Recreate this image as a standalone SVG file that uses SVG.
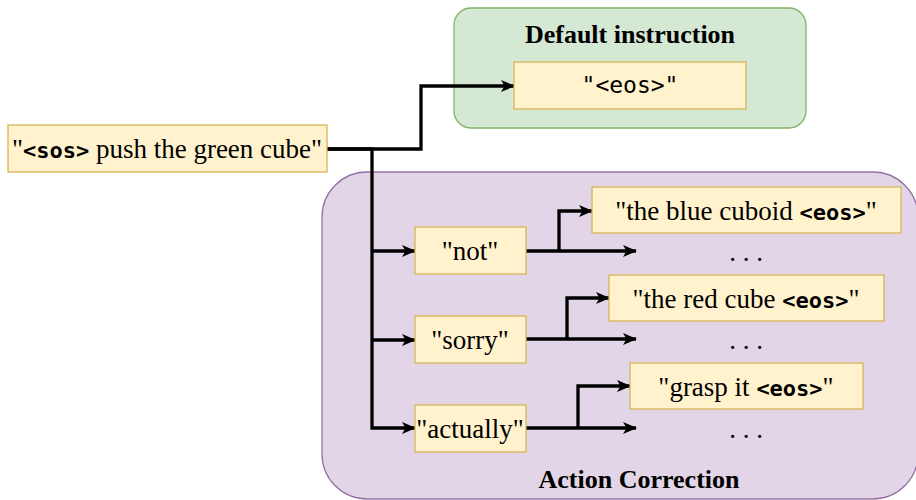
<svg xmlns="http://www.w3.org/2000/svg" width="916" height="500" viewBox="0 0 916 500">
<defs>
<style>
.node rect{fill:#fff2cc;stroke:#d6b656;stroke-width:1.3}
.t{font-family:"Liberation Serif","Times New Roman",serif;font-size:27px;fill:#000}
.m{font-family:"DejaVu Sans Mono","Liberation Mono",monospace;font-weight:bold;font-size:22px}
.mr{font-family:"DejaVu Sans Mono","Liberation Mono",monospace;font-size:23px}
.title{font-family:"Liberation Serif","Times New Roman",serif;font-size:26px;font-weight:bold;fill:#000}
.dots{font-family:"Liberation Serif","Times New Roman",serif;font-size:27px;fill:#000}
.edge{fill:none;stroke:#000;stroke-width:3.3}
</style>
<marker id="arr" viewBox="0 0 14 12" refX="13" refY="6" markerWidth="14" markerHeight="12" markerUnits="userSpaceOnUse" orient="auto">
<path d="M0,0 L14,6 L0,12 L3.5,6 z" fill="#000"/>
</marker>
</defs>
<rect width="916" height="500" fill="#fff"/>
<g id="group-default">
<rect x="454" y="8" width="352" height="120" rx="17" fill="#d5e8d4" stroke="#82b366" stroke-width="1.3"/>
<text class="title" x="630" y="43" text-anchor="middle">Default instruction</text>
</g>
<g id="group-correction">
<rect x="322" y="172" width="596" height="327" rx="45" fill="#e1d5e7" stroke="#9673a6" stroke-width="1.3"/>
<text class="title" x="639" y="488" text-anchor="middle">Action Correction</text>
</g>
<g id="edges">
<polyline class="edge" points="327,149 421,149 421,86 514,86" marker-end="url(#arr)"/>
<polyline class="edge" points="327,149 372,149 372,428 415,428" marker-end="url(#arr)"/>
<line class="edge" x1="372" y1="251" x2="415" y2="251" marker-end="url(#arr)"/>
<line class="edge" x1="372" y1="340" x2="415" y2="340" marker-end="url(#arr)"/>
<line class="edge" x1="526" y1="251" x2="636" y2="251" marker-end="url(#arr)"/>
<polyline class="edge" points="559,251 559,211 592,211" marker-end="url(#arr)"/>
<line class="edge" x1="526" y1="339" x2="636" y2="339" marker-end="url(#arr)"/>
<polyline class="edge" points="567,339 567,298 609,298" marker-end="url(#arr)"/>
<line class="edge" x1="526" y1="428" x2="636" y2="428" marker-end="url(#arr)"/>
<polyline class="edge" points="578,428 578,386 630,386" marker-end="url(#arr)"/>
</g>
<g id="node-source" class="node">
<rect x="8" y="125" width="319" height="47"/>
<text class="t" x="167" y="158" text-anchor="middle">"<tspan class="m">&lt;sos&gt;</tspan> push the green cube"</text>
</g>
<g id="node-eos" class="node">
<rect x="514" y="62" width="232" height="47"/>
<text class="mr" x="630" y="93" text-anchor="middle">"&lt;eos&gt;"</text>
</g>
<g id="node-not" class="node">
<rect x="415" y="227" width="111" height="47"/>
<text class="t" x="470" y="260" text-anchor="middle">"not"</text>
</g>
<g id="node-sorry" class="node">
<rect x="415" y="316" width="111" height="47"/>
<text class="t" x="470" y="349" text-anchor="middle">"sorry"</text>
</g>
<g id="node-actually" class="node">
<rect x="415" y="405" width="111" height="47"/>
<text class="t" x="470" y="438" text-anchor="middle">"actually"</text>
</g>
<g id="node-blue" class="node">
<rect x="592" y="187" width="309" height="46"/>
<text class="t" x="746" y="220" text-anchor="middle">"the blue cuboid <tspan class="m">&lt;eos&gt;</tspan>"</text>
</g>
<g id="node-red" class="node">
<rect x="609" y="275" width="275" height="46"/>
<text class="t" x="746" y="308" text-anchor="middle">"the red cube <tspan class="m">&lt;eos&gt;</tspan>"</text>
</g>
<g id="node-grasp" class="node">
<rect x="630" y="363" width="233" height="46"/>
<text class="t" x="746" y="396" text-anchor="middle">"grasp it <tspan class="m">&lt;eos&gt;</tspan>"</text>
</g>
<g id="dots">
<text class="dots" x="746" y="261" text-anchor="middle">. . .</text>
<text class="dots" x="746" y="349" text-anchor="middle">. . .</text>
<text class="dots" x="746" y="438" text-anchor="middle">. . .</text>
</g>
</svg>
